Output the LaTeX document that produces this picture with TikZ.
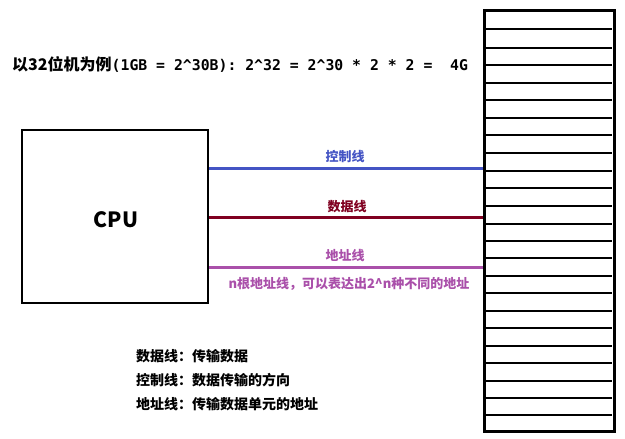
\documentclass[tikz,border=0pt]{standalone}
\usepackage{fontspec}
\setmainfont{Noto Sans CJK SC}
\newfontfamily\cjk{Noto Sans CJK SC}
\newfontfamily\monof{DejaVu Sans Mono}
\definecolor{ctl}{RGB}{68,84,196}
\definecolor{dat}{RGB}{128,0,32}
\definecolor{adr}{RGB}{170,80,170}
\begin{document}
\begin{tikzpicture}[x=1pt,y=-1pt,
  lbl/.style={font=\cjk\bfseries\fontsize{13}{15}\selectfont, inner sep=0pt},
  leg/.style={font=\cjk\bfseries\fontsize{14}{16}\selectfont, inner sep=0pt},
  bus/.style={line width=3pt}]
\useasboundingbox (0,0) rectangle (625,439);
\node[draw, line width=2.5pt, minimum width=186pt, minimum height=173pt, inner sep=0pt] (cpu) at (115,216.5) {};
\node[font=\cjk\bfseries\fontsize{21}{24}\selectfont] (cputxt) at (116,220) {CPU};
\node[draw, line width=3pt, minimum width=130pt, minimum height=421pt, inner sep=0pt] (mem) at (549,220.5) {};
\foreach \y in {29,48,65,83,100,118,135,153,171,188,206,224,241,258,276,293,311,328,346,363,381,398,415}
  \draw[line width=1.5pt] (486,\y) -- (612,\y);
\node[anchor=west, inner sep=0pt] (title) at (12,64) {\fontsize{16}{18}\selectfont\cjk\bfseries 以32位机为例\monof\bfseries\fontsize{14.8}{17}\selectfont(1GB = 2\^{}30B): 2\^{}32 = 2\^{}30 * 2 * 2 =~~4G};
\coordinate (c1) at (cpu.east |- 0,168);
\coordinate (c2) at (cpu.east |- 0,217);
\coordinate (c3) at (cpu.east |- 0,267);
\coordinate (m1) at (mem.west |- 0,168);
\coordinate (m2) at (mem.west |- 0,217);
\coordinate (m3) at (mem.west |- 0,267);
\draw[bus, ctl] (c1) -- (m1);
\draw[bus, dat] (c2) -- (m2);
\draw[bus, adr] (c3) -- (m3);
\node[lbl, text=ctl] (l1) at (345,157) {控制线};
\node[lbl, text=dat] (l2) at (347,207) {数据线};
\node[lbl, text=adr] (l3) at (345,256) {地址线};
\node[lbl, text=adr] (l4) at (349,284) {n根地址线，可以表达出2\^{}n种不同的地址};
\node[leg, anchor=west] (g1) at (136,356) {数据线：传输数据};
\node[leg, anchor=west] (g2) at (136,380) {控制线：数据传输的方向};
\node[leg, anchor=west] (g3) at (136,404) {地址线：传输数据单元的地址};
\end{tikzpicture}
\end{document}
